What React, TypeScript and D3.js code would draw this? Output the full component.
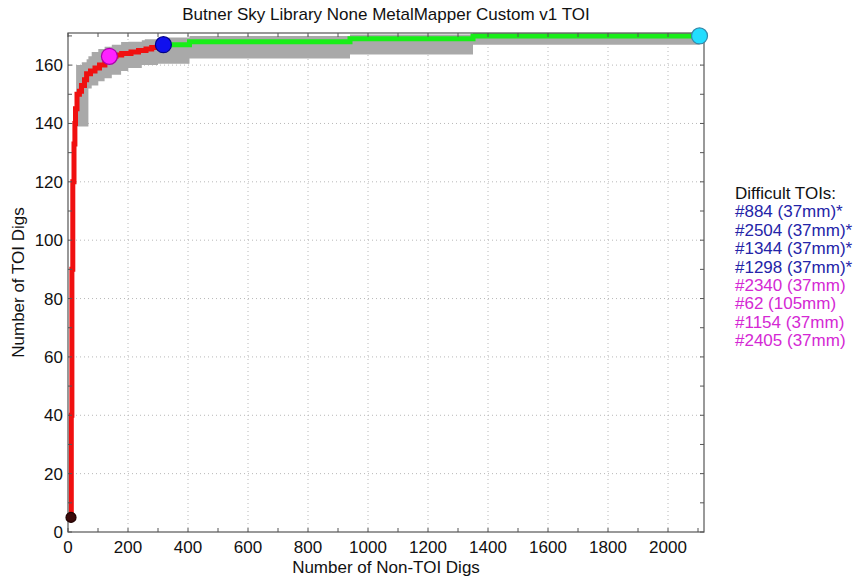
import React from "react";
import * as d3 from "d3";

const W = 854;
const H = 579;
const M = { left: 68, top: 33, right: 150, bottom: 47 };

const xDomain = [0, 2120];
const yDomain = [0, 171];
const xMajorTicks = [0, 200, 400, 600, 800, 1000, 1200, 1400, 1600, 1800, 2000];
const yMajorTicks = [0, 20, 40, 60, 80, 100, 120, 140, 160];

// red part of the curve (before the blue point)
const redX = [10, 11, 13, 16, 20, 23, 25, 30, 38, 45, 55, 62, 75, 90, 105, 123, 138, 160, 179, 210, 235, 260, 279, 318];
const redY = [5, 40, 90, 120, 133, 140, 145, 150, 151, 153, 155, 157, 158, 159, 160, 162, 163, 163.5, 164, 164.5, 165, 165.5, 166, 167];

// green part of the curve (after the blue point)
const greenX = [318, 405, 940, 1350, 2105];
const greenY = [167, 168, 169, 170, 170];

// grey confidence band
const bandX = [27, 40, 46, 62, 68, 79, 101, 122, 146, 177, 201, 246, 256, 300, 405, 940, 1350, 2105];
const bandUpper = [160, 160, 161, 162, 163, 164.5, 165.5, 166.3, 167, 167.9, 168, 168.5, 168.9, 169.5, 170, 170.5, 171, 171];
const bandLower = [139, 139, 139, 139, 152, 153, 154.5, 155.5, 156.7, 158, 159, 160, 160, 160.5, 162.3, 163.6, 167, 167];

// markers
const markerX = [10, 138, 318, 2105];
const markerY = [5, 163, 167, 170];
const markerFill = ["#3a0a0a", "#ff22ff", "#1010ee", "#22ddff"];
const markerStroke = ["#200000", "#aa00aa", "#000088", "#3388aa"];
const markerR = [5, 8, 8, 8];

const legendTitle = "Difficult TOIs:";
const legendItems = [
  "#884 (37mm)*",
  "#2504 (37mm)*",
  "#1344 (37mm)*",
  "#1298 (37mm)*",
  "#2340 (37mm)",
  "#62 (105mm)",
  "#1154 (37mm)",
  "#2405 (37mm)",
];
const legendColors = ["#2424a8", "#2424a8", "#2424a8", "#2424a8", "#d428d4", "#d428d4", "#d428d4", "#d428d4"];

export default function App() {
  const x = d3.scaleLinear().domain(xDomain).range([M.left, W - M.right]);
  const y = d3.scaleLinear().domain(yDomain).range([H - M.bottom, M.top]);
  const x0 = M.left, x1 = W - M.right, y0 = H - M.bottom, y1 = M.top;

  const redPts: [number, number][] = redX.map((v, i) => [v, redY[i]]);
  const greenPts: [number, number][] = greenX.map((v, i) => [v, greenY[i]]);
  const bandPts = bandX.map((v, i) => ({ x: v, lo: bandLower[i], hi: bandUpper[i] }));

  const line = d3
    .line<[number, number]>()
    .x((d) => x(d[0]))
    .y((d) => y(d[1]))
    .curve(d3.curveStepAfter);
  const area = d3
    .area<{ x: number; lo: number; hi: number }>()
    .x((d) => x(d.x))
    .y0((d) => y(d.lo))
    .y1((d) => y(d.hi))
    .curve(d3.curveStepAfter);

  const xMinor = d3.range(0, 2101, 100);
  const yMinor = d3.range(0, 171, 10);
  const font = "Arial, 'Liberation Sans', sans-serif";
  const fs = 17;

  return (
    <svg width={W} height={H} style={{ position: "absolute", left: 0, top: 0, background: "#fff" }} fontFamily={font}>
      <rect x={0} y={0} width={W} height={H} fill="#fff" />
      {/* grid */}
      {xMajorTicks.filter((t) => t > 0).map((t) => (
        <line key={"gx" + t} x1={x(t)} x2={x(t)} y1={y0} y2={y1} stroke="#b8b8b8" strokeWidth={1} strokeDasharray="1,3" />
      ))}
      {yMajorTicks.filter((t) => t > 0).map((t) => (
        <line key={"gy" + t} x1={x0} x2={x1} y1={y(t)} y2={y(t)} stroke="#b8b8b8" strokeWidth={1} strokeDasharray="1,3" />
      ))}
      {/* band */}
      <path d={area(bandPts) || ""} fill="#a9a9a9" />
      {/* curves */}
      <path d={line(redPts) || ""} fill="none" stroke="#f01010" strokeWidth={5} strokeLinejoin="miter" />
      <path d={line(greenPts) || ""} fill="none" stroke="#18ee18" strokeWidth={5} />
      {/* box */}
      <rect x={x0} y={y1} width={x1 - x0} height={y0 - y1} fill="none" stroke="#555" strokeWidth={1.2} />
      {/* ticks */}
      {xMinor.map((t) => (
        <g key={"tx" + t}>
          <line x1={x(t)} x2={x(t)} y1={y0} y2={y0 - 4} stroke="#555" />
          <line x1={x(t)} x2={x(t)} y1={y1} y2={y1 + 4} stroke="#555" />
        </g>
      ))}
      {yMinor.map((t) => (
        <g key={"ty" + t}>
          <line x1={x0} x2={x0 + 4} y1={y(t)} y2={y(t)} stroke="#555" />
          <line x1={x1} x2={x1 - 4} y1={y(t)} y2={y(t)} stroke="#555" />
        </g>
      ))}
      {/* markers */}
      {markerX.map((v, i) => (
        <circle key={"m" + i} cx={x(v)} cy={y(markerY[i])} r={markerR[i]} fill={markerFill[i]} stroke={markerStroke[i]} strokeWidth={1.2} />
      ))}
      {/* tick labels */}
      {xMajorTicks.map((t) => (
        <text key={"lx" + t} x={x(t)} y={553} textAnchor="middle" fontSize={fs} fill="#111">
          {t}
        </text>
      ))}
      {yMajorTicks.map((t) => (
        <text key={"ly" + t} x={63} y={y(t) + 6} textAnchor="end" fontSize={fs} fill="#111">
          {t}
        </text>
      ))}
      {/* titles */}
      <text x={(x0 + x1) / 2} y={20} textAnchor="middle" fontSize={fs} fill="#111">
        Butner Sky Library None MetalMapper Custom v1 TOI
      </text>
      <text x={(x0 + x1) / 2} y={573} textAnchor="middle" fontSize={fs} fill="#111">
        Number of Non-TOI Digs
      </text>
      <text transform={`translate(24,${(y0 + y1) / 2}) rotate(-90)`} textAnchor="middle" fontSize={fs} fill="#111">
        Number of TOI Digs
      </text>
      {/* legend */}
      <text x={735} y={199} fontSize={fs} fill="#111">
        {legendTitle}
      </text>
      {legendItems.map((s, i) => (
        <text key={"lg" + i} x={735} y={199 + (i + 1) * 18.4} fontSize={fs} fill={legendColors[i]}>
          {s}
        </text>
      ))}
    </svg>
  );
}
